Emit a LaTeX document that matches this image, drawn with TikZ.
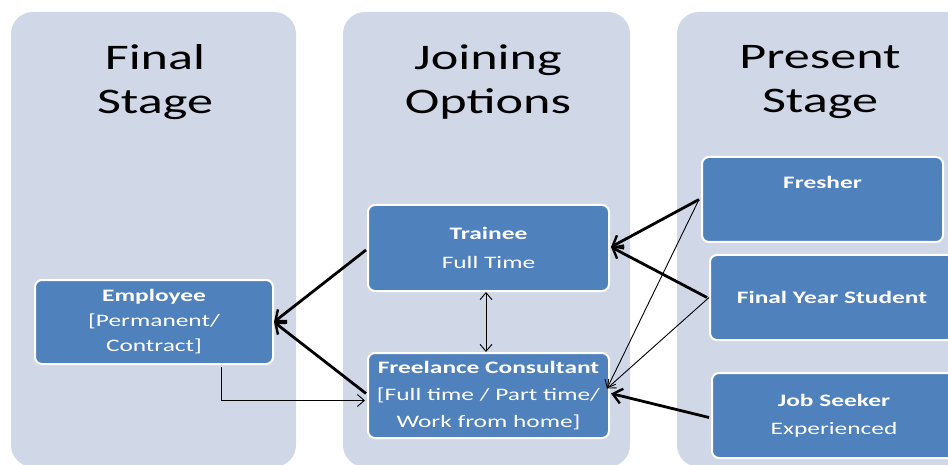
\documentclass[tikz,border=0pt]{standalone}
\usepackage{fontspec}
\setmainfont{Carlito}[FakeStretch=1.45]
\usetikzlibrary{arrows.meta,calc}
\definecolor{colbg}{HTML}{D0D8E8}
\definecolor{boxblue}{HTML}{4F81BD}
\begin{document}
\begin{tikzpicture}[x=1pt,y=-1pt,
  col/.style={fill=colbg,draw=none,rounded corners=22pt},
  head/.style={align=center,font=\fontsize{36}{44}\selectfont,inner sep=0pt},
  box/.style={rectangle,rounded corners=7pt,fill=boxblue,draw=white,line width=2pt,
    text=white,align=center,inner sep=0pt,font=\fontsize{17.5}{27}\selectfont},
  thick arrow/.style={line width=2.8pt,-{Straight Barb[length=9pt,width=15pt,line width=2.4pt]}},
  thin arrow/.style={line width=0.9pt,-{Straight Barb[length=7pt,width=12pt,line width=0.9pt]}},
  thin both/.style={line width=0.9pt,{Straight Barb[length=7pt,width=12pt,line width=0.9pt]}-{Straight Barb[length=7pt,width=12pt,line width=0.9pt]}}
]
\useasboundingbox (0,0) rectangle (948,465);
\fill[white] (0,0) rectangle (948,465);
% columns
\path[col] (11,12) rectangle (296,467);
\path[col] (343,12) rectangle (630,467);
\path[col] (677,12) rectangle (990,467);
% headers
\node[head] (h1) at (155,82) {Final\\Stage};
\node[head] (h2) at (488,82) {Joining\\Options};
\node[head] (h3) at (820,82) {Present\\Stage};
% boxes
\node[box,minimum width=238pt,minimum height=84pt,font=\fontsize{17.5}{25}\selectfont] (emp) at (154,322)
  {\textbf{Employee}\\{[}Permanent/\\Contract]};
\node[box,minimum width=241pt,minimum height=86pt,font=\fontsize{17.5}{29}\selectfont] (trainee) at (488.5,248)
  {\textbf{Trainee}\\Full Time};
\node[box,minimum width=241pt,minimum height=85pt] (free) at (488.5,395.5)
  {\textbf{Freelance Consultant}\\{[}Full time / Part time/\\Work from home]};
\node[box,minimum width=241pt,minimum height=85pt] (fresher) at (822.5,199.5)
  {\textbf{Fresher}\\\strut};
\node[box,minimum width=244pt,minimum height=85pt] (fys) at (832,297.5)
  {\textbf{Final Year Student}};
\node[box,minimum width=244pt,minimum height=85pt,font=\fontsize{17.5}{28}\selectfont] (job) at (834,415.5)
  {\textbf{Job Seeker}\\Experienced};
% connectors
\draw[thick arrow] ($(trainee.west)+(-1,2)$) -- (emp.east);
\draw[thick arrow] ($(free.west)+(-1,-2)$) -- (emp.east);
\draw[thin arrow] ($(emp.south)+(67,2)$) |- ($(free.west)+(-2,5)$);
\draw[thin both] (trainee.south -| 486,0) -- (free.north -| 486,0);
\draw[thick arrow] ($(fresher.west)+(-2,0)$) -- ($(trainee.east)+(1,-1)$);
\draw[thick arrow] ($(fys.west)+(-2,0)$) -- ($(trainee.east)+(1,-1)$);
\draw[thin arrow] ($(fresher.west)+(-2,0)$) -- ($(free.east)+(-3,-7)$);
\draw[thin arrow] ($(fys.west)+(0,0)$) -- ($(free.east)+(-3,-7)$);
\draw[thick arrow] ($(job.west)+(-2,2)$) -- ($(free.east)+(1,-2)$);
\end{tikzpicture}
\end{document}
